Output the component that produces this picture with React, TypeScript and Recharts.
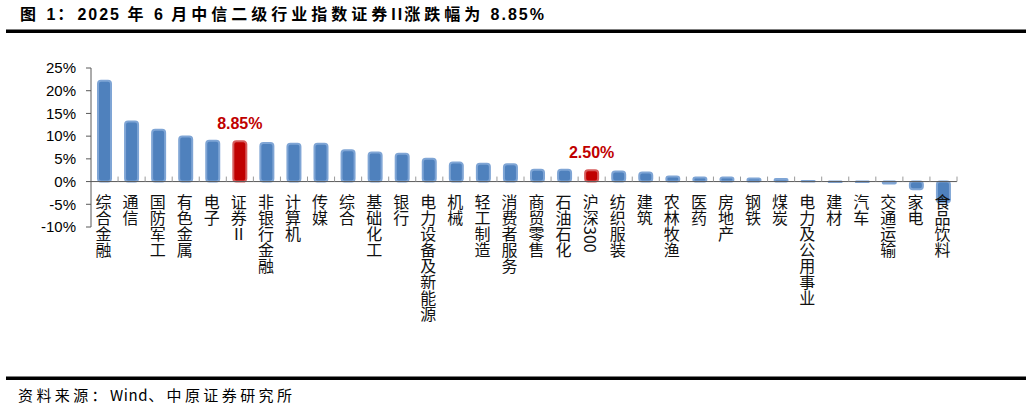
import React from 'react';
import { BarChart, Bar, XAxis, YAxis, Cell, ReferenceLine, LabelList } from 'recharts';

// ---------- data ----------
const categories = [
  '综合金融', '通信', '国防军工', '有色金属', '电子', '证券Ⅱ', '非银行金融', '计算机',
  '传媒', '综合', '基础化工', '银行', '电力设备及新能源', '机械', '轻工制造', '消费者服务',
  '商贸零售', '石油石化', '沪深300', '纺织服装', '建筑', '农林牧渔', '医药', '房地产',
  '钢铁', '煤炭', '电力及公用事业', '建材', '汽车', '交通运输', '家电', '食品饮料',
];
const changes = [
  22.2, 13.2, 11.4, 9.9, 9.0, 8.85, 8.5, 8.3,
  8.3, 6.9, 6.4, 6.1, 5.0, 4.2, 3.9, 3.8,
  2.6, 2.6, 2.5, 2.2, 2.0, 1.1, 0.9, 0.9,
  0.7, 0.55, 0.15, -0.1, -0.1, -0.45, -1.7, -4.6,
];
const highlighted = ['证券Ⅱ', '沪深300'];
const highlightLabels = ['8.85%', '2.50%'];
const yTicks = [-10, -5, 0, 5, 10, 15, 20, 25];
const titleText = '图 1：2025 年 6 月中信二级行业指数证券II涨跌幅为 8.85%';
const sourceText = '资料来源：Wind、中原证券研究所';

const data = categories.map((name, i) => {
  const h = highlighted.indexOf(name);
  return { name, value: changes[i], label: h >= 0 ? highlightLabels[h] : '' };
});

// ---------- layout ----------
const W = 1032;
const H = 409;
const MARGIN_TOP = 68;
const MARGIN_RIGHT = 75;
const Y_AXIS_W = 91;
const X_AXIS_H = 182;
const Y_MIN = -10;
const Y_MAX = 25;
const PLOT_H = H - MARGIN_TOP - X_AXIS_H;
const PLOT_W = W - Y_AXIS_W - MARGIN_RIGHT;
const ZERO_Y = MARGIN_TOP + (PLOT_H * Y_MAX) / (Y_MAX - Y_MIN);
const BAND = PLOT_W / categories.length;

const BLUE = '#4F81BD';
const BLUE_EDGE = '#7FA5D5';
const RED = '#C00000';
const RED_EDGE = '#D65C5C';
const CJK = "'Noto Sans CJK SC', sans-serif";
const LATIN = "'Liberation Sans', Arial, 'Noto Sans CJK SC', sans-serif";

// split text into runs of CJK / latin characters so each can get its own spacing
const splitRuns = (s: string) => {
  const runs: { text: string; latin: boolean }[] = [];
  for (const ch of Array.from(s)) {
    const latin = /[\x20-\x7e]/.test(ch);
    const last = runs[runs.length - 1];
    if (last && last.latin === latin) last.text += ch;
    else runs.push({ text: ch, latin });
  }
  return runs;
};

const SpacedText = (props: {
  text: string;
  x: number;
  y: number;
  size: number;
  bold?: boolean;
  cjkSpacing: number;
  latinSpacing: number;
  family: string;
}) => (
  <text
    x={props.x}
    y={props.y}
    fontSize={props.size}
    fontWeight={props.bold ? 'bold' : 'normal'}
    fontFamily={props.family}
    fill="#000"
    style={{ whiteSpace: 'pre' }}
  >
    {splitRuns(props.text).map((r, i) => (
      <tspan key={i} style={{ letterSpacing: `${r.latin ? props.latinSpacing : props.cjkSpacing}px` }}>
        {r.text}
      </tspan>
    ))}
  </text>
);

const CategoryTick = (props: any) => {
  const { x, payload } = props;
  const label: string = String(payload.value);
  return (
    <g>
      <line
        x1={x + BAND / 2}
        x2={x + BAND / 2}
        y1={ZERO_Y - 5}
        y2={ZERO_Y}
        stroke="#9a9a9a"
        strokeWidth={1}
      />
      <text
        x={x - 1}
        y={ZERO_Y + 12.5}
        fontSize={16}
        fontFamily={CJK}
        fill="#111"
        style={{ writingMode: 'vertical-rl' as any }}
      >
        {label}
      </text>
    </g>
  );
};

const ValueLabel = (props: any) => {
  const { x, y, width, value } = props;
  if (!value) return null;
  return (
    <text
      x={Number(x) + Number(width) / 2}
      y={Number(y) - 12}
      textAnchor="middle"
      fill={RED}
      fontSize={16}
      fontWeight="bold"
      fontFamily={LATIN}
    >
      {value}
    </text>
  );
};

export default function App() {
  return (
    <div style={{ position: 'absolute', left: 0, top: 0, width: W, height: H, background: '#fff' }}>
      <svg width={W} height={H} style={{ position: 'absolute', left: 0, top: 0 }}>
        <SpacedText
          text={titleText}
          x={20}
          y={20}
          size={16}
          bold
          cjkSpacing={4}
          latinSpacing={2}
          family={LATIN}
        />
        <rect x={6} y={29.5} width={1020} height={3.5} fill="#000" />
        <rect x={6} y={376.5} width={1020} height={3.5} fill="#000" />
        <SpacedText
          text={sourceText}
          x={18}
          y={401}
          size={15}
          cjkSpacing={3.4}
          latinSpacing={0.6}
          family={CJK}
        />
      </svg>
      <div style={{ position: 'absolute', left: 0, top: 0 }}>
        <BarChart
          width={W}
          height={H}
          data={data}
          margin={{ top: MARGIN_TOP, right: MARGIN_RIGHT, left: 0, bottom: 0 }}
        >
          <XAxis
            dataKey="name"
            type="category"
            height={X_AXIS_H}
            axisLine={false}
            tickLine={false}
            interval={0}
            tick={(p: any) => <CategoryTick {...p} />}
          />
          <YAxis
            type="number"
            domain={[Y_MIN, Y_MAX]}
            ticks={yTicks}
            allowDataOverflow
            width={Y_AXIS_W}
            tickSize={5}
            tickMargin={10}
            tickFormatter={(v: number) => `${v}%`}
            axisLine={{ stroke: '#595959' }}
            tickLine={{ stroke: '#595959' }}
            tick={{ fontSize: 15, fill: '#000', fontFamily: LATIN }}
          />
          <Bar dataKey="value" barSize={13} radius={3} isAnimationActive={false}>
            {data.map((d) => {
              const hl = highlighted.includes(d.name);
              return (
                <Cell
                  key={d.name}
                  fill={hl ? RED : BLUE}
                  stroke={hl ? RED_EDGE : BLUE_EDGE}
                  strokeWidth={2}
                />
              );
            })}
            <LabelList dataKey="label" content={(p: any) => <ValueLabel {...p} />} />
          </Bar>
          <ReferenceLine y={0} stroke="#595959" strokeWidth={1} />
        </BarChart>
      </div>
    </div>
  );
}
